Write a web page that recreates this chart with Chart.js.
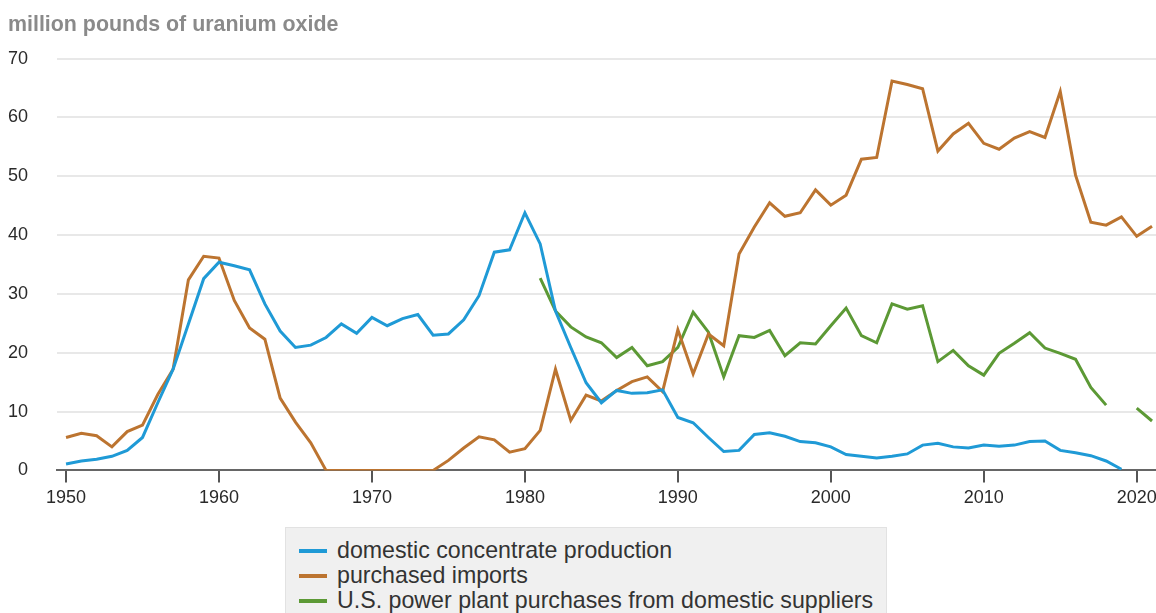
<!DOCTYPE html>
<html>
<head>
<meta charset="utf-8">
<script src="https://cdn.jsdelivr.net/npm/chart.js@4"></script>
<style>
  body { margin: 0; background: #fff; font-family: "Liberation Sans", Arial, sans-serif; }
  #wrap { position: relative; width: 1156px; height: 613px; overflow: hidden; }
  #legend {
    position: absolute; left: 285px; top: 527px; width: 602px; height: 100px;
    background: #f0f0f0; border: 1px solid #e2e2e2; box-sizing: border-box;
    padding: 10px 0 0 13px;
  }
  .item { display: flex; align-items: center; height: 25px; font-size: 23.2px; color: #333; white-space: nowrap; }
  .swatch { width: 28px; height: 4px; margin-right: 10px; }
</style>
</head>
<body>
<div id="wrap">
  <canvas id="myChart" width="1156" height="613"></canvas>
  <div id="legend"></div>
</div>
<script>
const years = [];
for (let y = 1950; y <= 2021; y++) years.push(y);

const domesticProduction = [
  1.1, 1.6, 1.9, 2.4, 3.4, 5.6, 11.5, 17.2, 24.9, 32.6,
  35.4, 34.8, 34.1, 28.3, 23.7, 20.9, 21.3, 22.6, 24.9, 23.3,
  26.0, 24.6, 25.8, 26.5, 23.0, 23.2, 25.6, 29.7, 37.1, 37.5,
  43.8, 38.5, 27.1, 20.9, 14.9, 11.5, 13.6, 13.1, 13.2, 13.7,
  9.0, 8.1, 5.6, 3.2, 3.4, 6.1, 6.4, 5.8, 4.9, 4.7,
  4.0, 2.7, 2.4, 2.1, 2.4, 2.8, 4.3, 4.6, 4.0, 3.8,
  4.3, 4.1, 4.3, 4.9, 5.0, 3.4, 3.0, 2.5, 1.6, 0.2,
  null, null
];

const purchasedImports = [
  5.6, 6.3, 5.9, 4.0, 6.6, 7.7, 12.9, 17.2, 32.4, 36.4,
  36.1, 28.9, 24.2, 22.3, 12.3, 8.2, 4.7, 0, 0, 0,
  0, 0, 0, 0, 0, 1.7, 3.8, 5.7, 5.2, 3.1,
  3.7, 6.8, 17.2, 8.5, 12.8, 11.8, 13.6, 15.1, 15.9, 13.4,
  23.9, 16.4, 23.2, 21.2, 36.8, 41.4, 45.5, 43.2, 43.8, 47.7,
  45.1, 46.8, 52.9, 53.2, 66.2, 65.6, 64.9, 54.3, 57.2, 59.0,
  55.6, 54.6, 56.5, 57.6, 56.6, 64.4, 50.2, 42.2, 41.7, 43.1,
  39.8, 41.5
];

const domesticPurchases = [
  null, null, null, null, null, null, null, null, null, null,
  null, null, null, null, null, null, null, null, null, null,
  null, null, null, null, null, null, null, null, null, null,
  null, 32.7, 27.1, 24.4, 22.7, 21.7, 19.2, 20.9, 17.8, 18.5,
  20.9, 26.9, 23.5, 15.9, 22.9, 22.6, 23.8, 19.5, 21.7, 21.5,
  24.6, 27.6, 22.9, 21.7, 28.3, 27.4, 28.0, 18.5, 20.4, 17.8,
  16.2, 19.9, 21.6, 23.4, 20.8, 19.9, 18.9, 14.1, 11.1, null,
  10.6, 8.4
];

const xTicks = [1950, 1960, 1970, 1980, 1990, 2000, 2010, 2020];
const yTicks = [0, 10, 20, 30, 40, 50, 60, 70];

const FONT = "'Liberation Sans', Arial, sans-serif";

function toPoints(values)
{
  return values.map((v, i) => ({x: years[i], y: v}));
}

function series(label, values, color)
{
  return {
    label: label,
    data: toPoints(values),
    borderColor: color,
    backgroundColor: color,
    borderWidth: 3,
    pointRadius: 0,
    spanGaps: false,
  };
}

const chart = new Chart(document.getElementById("myChart"), {
  type: "line",
  data: {
    datasets: [
      series("domestic concentrate production", domesticProduction, "#1f9ad6"),
      series("purchased imports", purchasedImports, "#bc7430"),
      series("U.S. power plant purchases from domestic suppliers", domesticPurchases, "#5c9935"),
    ],
  },
  options: {
    responsive: false,
    animation: false,
    layout: {padding: {left: 8, right: 0, top: 0, bottom: 99}},
    plugins: {
      legend: {display: false},
      tooltip: {enabled: false},
      title: {
        display: true,
        text: "million pounds of uranium oxide",
        align: "start",
        color: "#8a8a8a",
        font: {family: FONT, size: 21.4, weight: "bold"},
        padding: {top: 12, bottom: 21},
      },
    },
    scales: {
      x: {
        type: "linear",
        min: 1949.41,
        max: 2021.26,
        afterBuildTicks: scale => { scale.ticks = xTicks.map(v => ({value: v})); },
        afterFit: scale => { scale.paddingRight = 0; },
        ticks: {
          callback: v => String(v),
          color: "#2a2a2a",
          font: {family: FONT, size: 18},
          padding: 5,
          maxRotation: 0,
          autoSkip: false,
        },
        grid: {drawOnChartArea: false, drawTicks: true, tickLength: 12, color: "#555", lineWidth: 2},
        border: {display: true, color: "#666", width: 2},
      },
      y: {
        min: 0,
        max: 70,
        afterBuildTicks: scale => { scale.ticks = yTicks.map(v => ({value: v})); },
        afterFit: scale => { scale.width = 49; },
        ticks: {
          color: "#2a2a2a",
          font: {family: FONT, size: 18},
          padding: 29,
        },
        grid: {drawTicks: false, color: "#e8e8e8", lineWidth: 2},
        border: {display: false},
      },
    },
  },
});

// html legend built from the chart's datasets
const legend = document.getElementById("legend");
chart.data.datasets.forEach(ds => {
  const row = document.createElement("div");
  row.className = "item";
  const sw = document.createElement("span");
  sw.className = "swatch";
  sw.style.background = ds.borderColor;
  row.appendChild(sw);
  row.appendChild(document.createTextNode(ds.label));
  legend.appendChild(row);
});
</script>
</body>
</html>
